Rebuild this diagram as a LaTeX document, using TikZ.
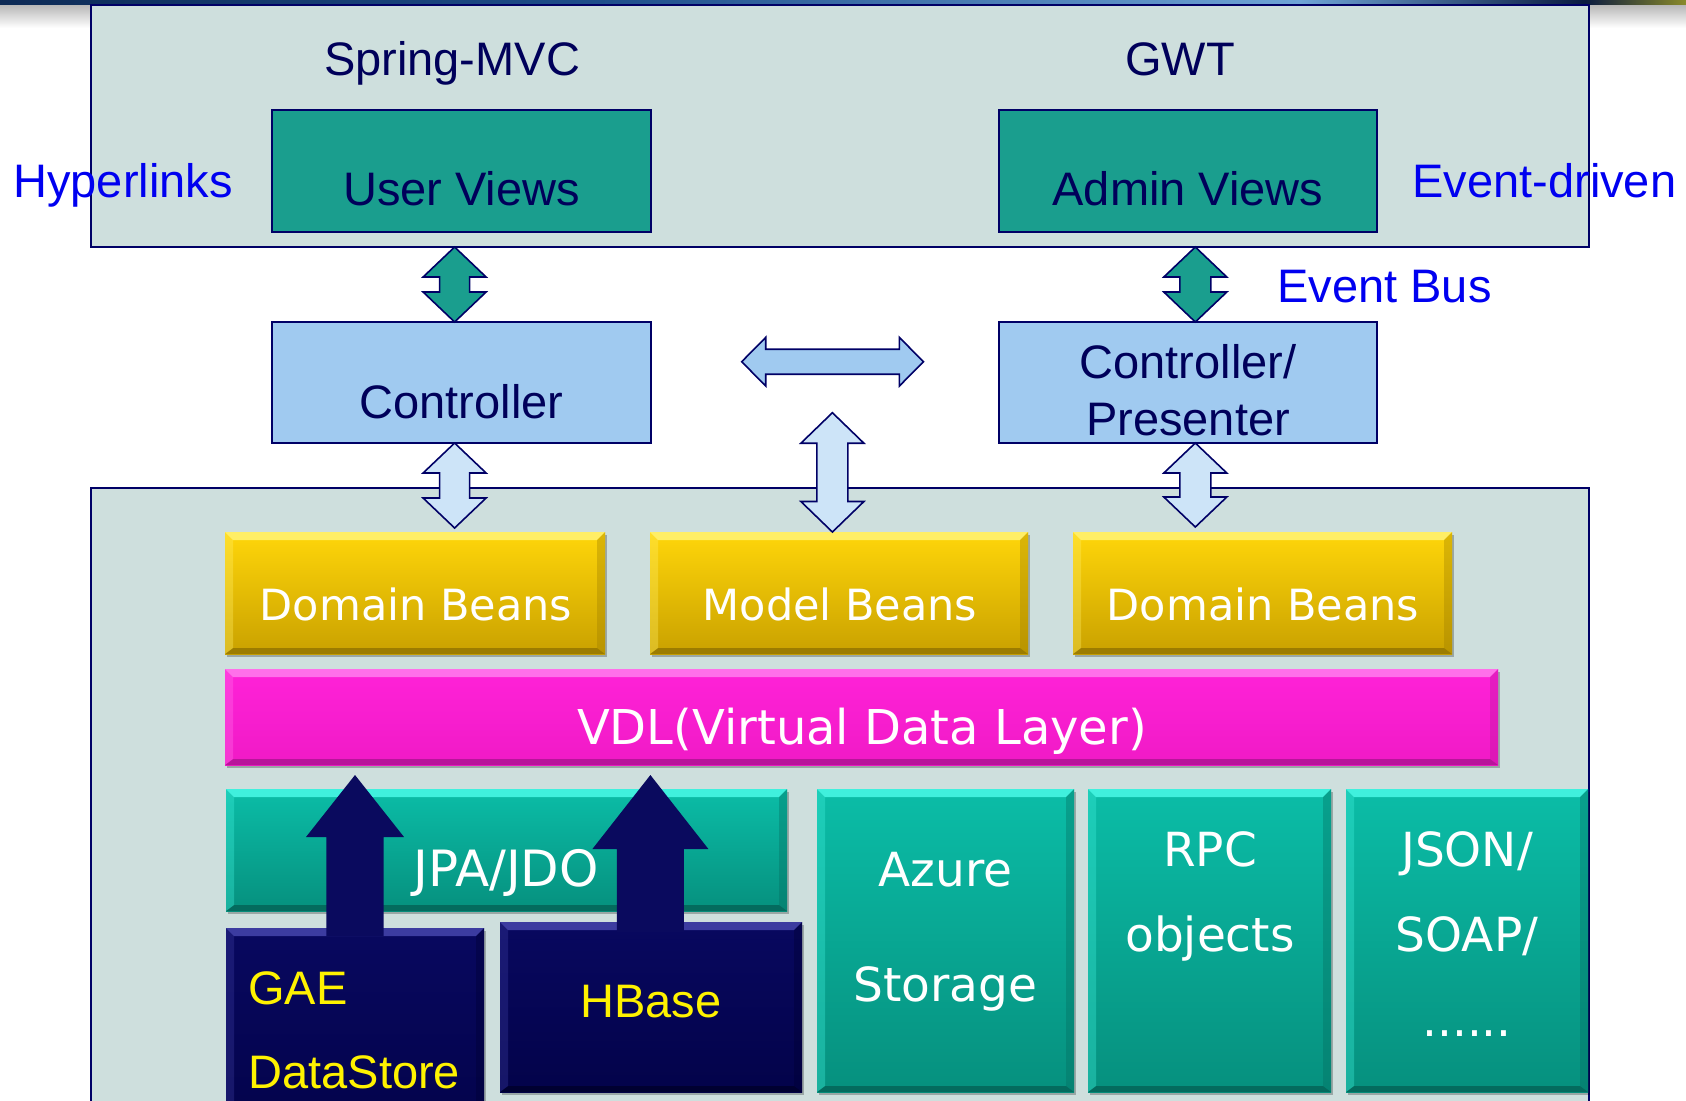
\documentclass[tikz,border=0pt]{standalone}
\usepackage{fontspec}
\setmainfont{Liberation Sans}
\newfontfamily\vfont{DejaVu Sans}
\usetikzlibrary{calc,shadows}
\definecolor{panelfill}{HTML}{CEDFDD}
\definecolor{navy}{HTML}{000066}
\definecolor{navytext}{HTML}{00005A}
\definecolor{viewteal}{HTML}{1A9E8E}
\definecolor{ctrlblue}{HTML}{A0CAF0}
\definecolor{lightarr}{HTML}{CDE4F8}
\definecolor{linkblue}{HTML}{0000F0}
\definecolor{ytop}{HTML}{FFD60A}
\definecolor{ybot}{HTML}{C9A100}
\definecolor{ylight}{HTML}{FFEE66}
\definecolor{ydark}{HTML}{9C7C00}
\definecolor{mtop}{HTML}{FF22D8}
\definecolor{mbot}{HTML}{F01AC6}
\definecolor{mlight}{HTML}{FF70EA}
\definecolor{mdark}{HTML}{B8159A}
\definecolor{ttop}{HTML}{0BBDA7}
\definecolor{tbot}{HTML}{06907E}
\definecolor{tlight}{HTML}{40F0DD}
\definecolor{tdark}{HTML}{046B5E}
\definecolor{ntop}{HTML}{08085F}
\definecolor{nbot}{HTML}{03034A}
\definecolor{nlight}{HTML}{3C3CA0}
\definecolor{ndark}{HTML}{000030}
\definecolor{uparrow}{HTML}{0A0A5E}
\definecolor{bannerA}{HTML}{0D2A55}
\definecolor{bannerB}{HTML}{1E4E8A}
\definecolor{bannerC}{HTML}{6FA4D6}
\definecolor{bannerD}{HTML}{0A1A40}
\definecolor{bannerE}{HTML}{8A8A2A}
\tikzset{
  boxbase/.style={rectangle, inner sep=0pt, outer sep=0pt},
  panelbox/.style={boxbase, fill=panelfill, draw=navy, line width=0.9pt},
  viewbox/.style={boxbase, fill=viewteal, draw=navy, line width=0.9pt},
  ctrlbox/.style={boxbase, fill=ctrlblue, draw=navy, line width=0.7pt},
  bevel/.style n args={4}{boxbase, top color=#1, bottom color=#2,
    drop shadow={opacity=0.25, shadow xshift=1.2pt, shadow yshift=-1.5pt, fill=black},
    path picture={
      \fill[#3] (path picture bounding box.north west) -- (path picture bounding box.north east)
        -- ([xshift=-4pt,yshift=-4pt]path picture bounding box.north east)
        -- ([xshift=4pt,yshift=-4pt]path picture bounding box.north west) -- cycle;
      \fill[#4] (path picture bounding box.south west) -- (path picture bounding box.south east)
        -- ([xshift=-4pt,yshift=3pt]path picture bounding box.south east)
        -- ([xshift=4pt,yshift=3pt]path picture bounding box.south west) -- cycle;
      \fill[#3,opacity=0.35] (path picture bounding box.north west)
        -- ([xshift=4pt,yshift=-4pt]path picture bounding box.north west)
        -- ([xshift=4pt,yshift=3pt]path picture bounding box.south west)
        -- (path picture bounding box.south west) -- cycle;
      \fill[#4,opacity=0.35] (path picture bounding box.north east)
        -- ([xshift=-4pt,yshift=-4pt]path picture bounding box.north east)
        -- ([xshift=-4pt,yshift=3pt]path picture bounding box.south east)
        -- (path picture bounding box.south east) -- cycle;
    }},
  yellowbox/.style={bevel={ytop}{ybot}{ylight}{ydark}},
  magentabox/.style={bevel={mtop}{mbot}{mlight}{mdark}},
  tealbox/.style={bevel={ttop}{tbot}{tlight}{tdark}},
  navybox/.style={bevel={ntop}{nbot}{nlight}{ndark}},
  arial/.style={inner sep=0pt, anchor=base, font=\fontsize{23.5pt}{28pt}\selectfont},
  navylbl/.style={arial, text=navytext},
  bluelbl/.style={arial, text=linkblue},
  yellowlbl/.style={arial, text=yellow},
  whitelbl/.style={inner sep=0pt, anchor=base, text=white, font=\vfont\fontsize{23.5pt}{28pt}\selectfont},
  beanlbl/.style={whitelbl, font=\vfont\fontsize{21.5pt}{26pt}\selectfont},
  greenarr/.style={fill=viewteal, draw=navy, line width=0.8pt, line join=miter},
  lightarrow/.style={fill=lightarr, draw=navy, line width=0.8pt, line join=miter},
  horizarr/.style={fill=ctrlblue, draw=navy, line width=0.8pt, line join=miter},
  navyarr/.style={fill=uparrow},
}
% box from (x1,y1) to (x2,y2) in px
\newcommand\boxnode[6][]{\node[#1, anchor=north west, minimum width={(#5-#3)*0.5pt}, minimum height={(#6-#4)*0.5pt}] (#2) at (#3,#4) {};}
% vertical double arrow: style, top tip, bottom tip, head half width, shaft half width, head length
\newcommand\vdarrow[6]{%
  \draw[#1] (#2) -- ($(#2)+(#4,#6)$) -- ($(#2)+(#5,#6)$) -- ($(#3)+(#5,-#6)$) -- ($(#3)+(#4,-#6)$)
   -- (#3) -- ($(#3)+(-#4,-#6)$) -- ($(#3)+(-#5,-#6)$) -- ($(#2)+(-#5,#6)$) -- ($(#2)+(-#4,#6)$) -- cycle;}
% horizontal double arrow: style, left tip, right tip, head half width, shaft half width, head length
\newcommand\hdarrow[6]{%
  \draw[#1] (#2) -- ($(#2)+(#6,-#4)$) -- ($(#2)+(#6,-#5)$) -- ($(#3)+(-#6,-#5)$) -- ($(#3)+(-#6,-#4)$)
   -- (#3) -- ($(#3)+(-#6,#4)$) -- ($(#3)+(-#6,#5)$) -- ($(#2)+(#6,#5)$) -- ($(#2)+(#6,#4)$) -- cycle;}
% up arrow: style, tip, shaft bottom centre, head half width, shaft half width, head length
\newcommand\upblock[6]{%
  \fill[#1] (#2) -- ($(#2)+(#4,#6)$) -- ($(#2)+(#5,#6)$) -- ($(#3)+(#5,0)$) -- ($(#3)+(-#5,0)$)
   -- ($(#2)+(-#5,#6)$) -- ($(#2)+(-#4,#6)$) -- cycle;}
\begin{document}
\begin{tikzpicture}[x=0.5pt,y=-0.5pt]
\useasboundingbox (0,0) rectangle (1686,1100);
\clip (0,0) rectangle (1686,1100);
\fill[white] (0,0) rectangle (1686,1100);
% banner remnant at top
\shade[left color=bannerA, right color=bannerB] (0,0) rectangle (600,5);
\shade[left color=bannerB, right color=bannerC] (600,0) rectangle (1300,5);
\shade[left color=bannerC, right color=bannerD] (1300,0) rectangle (1585,5);
\shade[left color=bannerD, right color=bannerE] (1585,0) rectangle (1686,5);
\shade[top color=black!28, bottom color=white] (0,5) rectangle (92,28);
\shade[top color=black!28, bottom color=white] (1588,5) rectangle (1686,28);

% panels
\boxnode[panelbox]{toppanel}{91}{5}{1589}{247}
\boxnode[panelbox]{botpanel}{91}{488}{1589}{1130}

% top labels
\node[navylbl] (springlbl) at (452,75) {Spring-MVC};
\node[navylbl] (gwtlbl) at (1180,75) {GWT};
\node[bluelbl, anchor=base west] (hyperlbl) at (13,197) {Hyperlinks};
\node[bluelbl, anchor=base west] (eventlbl) at (1412,197) {Event-driven};
\node[bluelbl, anchor=base west] (buslbl) at (1277,302.7) {Event Bus};

% view boxes
\boxnode[viewbox]{uv}{272}{110}{651}{232}
\boxnode[viewbox]{av}{999}{110}{1377}{232}
\node[navylbl] (uvlbl) at (461.5,205) {User Views};
\node[navylbl] (avlbl) at (1188,205) {Admin Views};

% controllers
\boxnode[ctrlbox]{ctrl}{272}{322}{651}{443}
\boxnode[ctrlbox]{cp}{999}{322}{1377}{443}
\node[navylbl] (ctrllbl) at (461.5,418) {Controller};
\node[navylbl] (cplbl1) at (1188,378) {Controller/};
\node[navylbl] (cplbl2) at (1188,435) {Presenter};

% beans
\boxnode[yellowbox]{db1}{225}{532}{605}{654}
\boxnode[yellowbox]{mb}{650}{532}{1028}{654}
\boxnode[yellowbox]{db2}{1073}{532}{1452}{654}
\node[beanlbl] (db1lbl) at (416,620) {Domain Beans};
\node[beanlbl] (mblbl) at (840,620) {Model Beans};
\node[beanlbl] (db2lbl) at (1263,620) {Domain Beans};

% VDL
\boxnode[magentabox]{vdl}{225}{669}{1498}{765}
\node[whitelbl, font=\vfont\fontsize{24pt}{28pt}\selectfont] (vdllbl) at (862,744) {VDL(Virtual Data Layer)};

% storage layer
\boxnode[tealbox]{jpa}{226}{789}{787}{911}
\node[whitelbl, font=\vfont\fontsize{25pt}{28pt}\selectfont] (jpalbl) at (506,886.7) {JPA/JDO};
\boxnode[navybox]{gae}{226}{928}{484}{1140}
\boxnode[navybox]{hb}{500}{922}{802}{1092}
\node[yellowlbl, anchor=base west] (gaelbl1) at (248,1004) {GAE};
\node[yellowlbl, anchor=base west] (gaelbl2) at (248,1088) {DataStore};
\node[yellowlbl] (hblbl) at (651,1017) {HBase};

\boxnode[tealbox]{az}{817}{789}{1074}{1092}
\boxnode[tealbox]{rpc}{1088}{789}{1331}{1092}
\boxnode[tealbox]{js}{1346}{789}{1588}{1092}
\node[whitelbl] (azlbl1) at (945.5,886.7) {Azure};
\node[whitelbl] (azlbl2) at (945.5,1001.7) {Storage};
\node[whitelbl] (rpclbl1) at (1210,866) {RPC};
\node[whitelbl] (rpclbl2) at (1210,951.7) {objects};
\node[whitelbl] (jslbl1) at (1467,866) {JSON/};
\node[whitelbl] (jslbl2) at (1467,951.7) {SOAP/};
\node[whitelbl] (jslbl3) at (1467,1036.7) {......};

% arrow anchor coordinates
\coordinate (xl) at (454.6,0);
\coordinate (xr) at (1195.3,0);
\coordinate (xm) at (832.4,0);
\coordinate (g1t) at (xl |- toppanel.south);
\coordinate (g1b) at (xl |- ctrl.north);
\coordinate (g2t) at (xr |- toppanel.south);
\coordinate (g2b) at (xr |- cp.north);
\coordinate (l1t) at (xl |- ctrl.south);
\coordinate (l1b) at (454.6,528);
\coordinate (l2t) at (xr |- cp.south);
\coordinate (l2b) at (1195.3,527);
\coordinate (mt) at (832.4,412.7);
\coordinate (mbt) at (xm |- mb.north);
\coordinate (hl) at (741.7,361.7);
\coordinate (hr) at (923.4,361.7);
\coordinate (u1t) at (355,775);
\coordinate (u1b) at (355,936);
\coordinate (u2t) at (650.4,775);
\coordinate (u2b) at (650.4,932);

% double arrows
\vdarrow{greenarr}{g1t}{g1b}{31.5}{15}{30}
\vdarrow{greenarr}{g2t}{g2b}{31.5}{15.5}{30}
\vdarrow{lightarrow}{l1t}{l1b}{31.5}{15}{30}
\vdarrow{lightarrow}{l2t}{l2b}{31.5}{15.5}{30}
\vdarrow{lightarrow}{mt}{mbt}{31.5}{15.5}{30.5}
\hdarrow{horizarr}{hl}{hr}{24.3}{12.5}{24}

% up arrows
\upblock{navyarr}{u1t}{u1b}{49}{28.7}{62}
\upblock{navyarr}{u2t}{u2b}{58}{33.5}{74}
\end{tikzpicture}
\end{document}
